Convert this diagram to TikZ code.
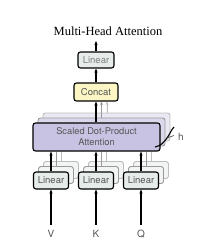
\documentclass[tikz,border=0pt]{standalone}
\usepackage{fontspec}
\setmainfont{Liberation Serif}
\setsansfont{TeX Gyre Heros}
\usetikzlibrary{arrows.meta}
\definecolor{linfill}{HTML}{E6ECEA}
\definecolor{catfill}{HTML}{FBF6C4}
\definecolor{attfill}{HTML}{C9C3E3}
\definecolor{attsh1}{HTML}{DCD8EC}
\definecolor{attsh2}{HTML}{EAE8F3}
\definecolor{shline}{HTML}{9A9A9A}
\definecolor{shline2}{HTML}{BDBDBD}
\definecolor{txtgray}{HTML}{555555}
\tikzset{
  box/.style={draw=black, line width=1.1pt, rounded corners=2.5pt, inner sep=0pt,
    font=\sffamily\fontsize{9.5}{10.5}\selectfont, text=txtgray},
  shbox/.style={draw=shline, line width=0.9pt, rounded corners=2.5pt, inner sep=0pt},
  linbox/.style={box, fill=linfill, minimum width=35pt, minimum height=17pt},
  linsh/.style={shbox, fill=linfill!50, minimum width=35pt, minimum height=17pt},
  attbox/.style={box, fill=attfill, minimum width=127pt, minimum height=28pt, align=center,
    font=\sffamily\fontsize{9.3}{11}\selectfont},
  arr/.style={-{Stealth[length=4pt,width=3.2pt]}, line width=1.1pt, black},
  sharr/.style={-{Stealth[length=3.5pt,width=3pt]}, line width=0.9pt, shline},
  inlabel/.style={font=\sffamily\fontsize{10}{11}\selectfont, text=txtgray}
}
\begin{document}
\begin{tikzpicture}[x=1pt,y=-1pt]
\useasboundingbox (0,0) rectangle (203,250);
% title
\node[font=\fontsize{12.5}{14}\selectfont] (title) at (108,31) {Multi-Head Attention};
\coordinate (out) at (96,41);
% top linear and concat
\node[box, fill=linfill, minimum width=36pt, minimum height=16pt, text=gray] (lintop) at (96,60) {Linear};
\node[box, fill=catfill, minimum width=44pt, minimum height=18pt] (concat) at (96,92) {Concat};
\draw[arr] (lintop.north) -- (out);
\draw[arr] (concat.north) -- (lintop.south);
% attention shadows
\node[shbox, draw=shline2, fill=attsh2, minimum width=127pt, minimum height=28pt] (att2) at (106.5,127) {};
\node[shbox, fill=attsh1, minimum width=127pt, minimum height=28pt] (att1) at (101.5,132) {};
\draw[sharr, draw=shline2, fill=shline2] (att2.north -| 107,0) -- (concat.south -| 107,0);
\draw[sharr] (att1.north -| 101.5,0) -- (concat.south -| 101.5,0);
\node[attbox] (att) at (96.5,137) {Scaled Dot-Product\\Attention};
\draw[arr] (att.north -| concat.south) -- (concat.south);
% h brace
\draw[line width=1.1pt, black] (155,147) .. controls (161,146) and (164,142) .. (167,138)
  .. controls (170,134) and (171,130) .. (174,127);
\draw[line width=0.7pt, txtgray] (167,138) -- (174,135.5);
\node[inlabel, anchor=west] (h) at (174.5,136.5) {h};
% bottom linears
\foreach \n/\x in {v/51, k/96, q/141} {
  \node[linsh, draw=shline2] (\n s2) at (\x+10,170) {};
  \node[linsh] (\n s1) at (\x+5,175) {};
  \draw[line width=0.9pt, shline2] (\n s2.north) -- (\n s2.north |- att.south);
  \draw[line width=0.9pt, shline] (\n s1.north) -- (\n s1.north |- att.south);
}
\foreach \n/\x/\l in {v/51/V, k/96/K, q/141/Q} {
  \node[linbox] (\n) at (\x,180.5) {Linear};
  \draw[arr] (\n.north) -- (\n.north |- att.south);
  \node[inlabel] (\n lab) at (\x,234) {\l};
  \coordinate (\n in) at (\x,225);
  \draw[arr] (\n in) -- (\n.south);
}
\end{tikzpicture}
\end{document}
